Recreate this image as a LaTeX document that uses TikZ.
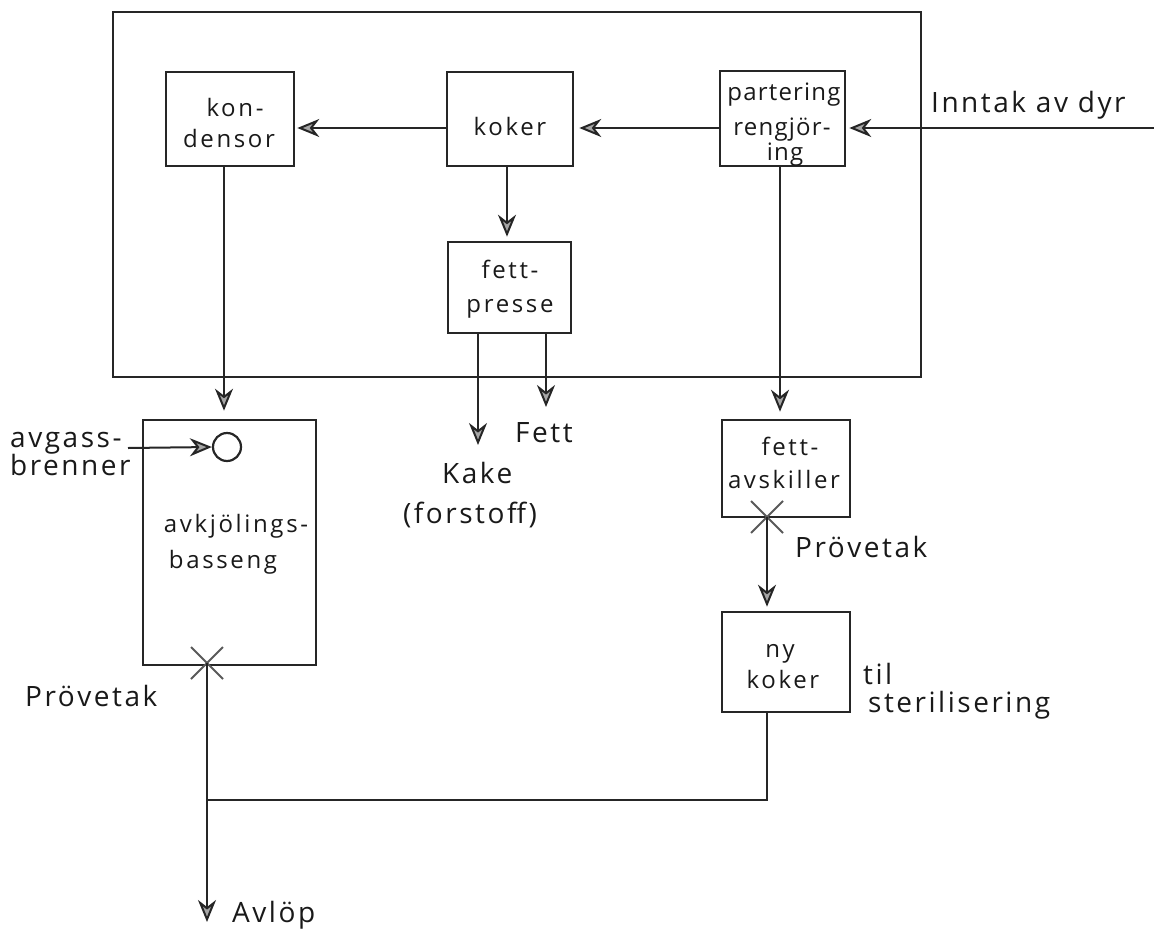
\documentclass[tikz,border=0pt]{standalone}
\usepackage{fontspec}
\setmainfont{Open Sans}
\newfontfamily\lblfont[LetterSpace=9]{Open Sans}
\newfontfamily\boxfont[LetterSpace=11]{Open Sans}
\newfontfamily\boxtight[LetterSpace=5]{Open Sans}
\usetikzlibrary{arrows.meta,shapes.misc}
\tikzset{
  unit/.style={draw=black!85, line width=2.6pt, inner sep=0pt, rectangle},
  flow/.style={draw=black!85, line width=2pt},
  arr/.style={flow, -{Stealth[length=22pt,width=18pt,inset=7pt,fill=black!35]}},
  outerlbl/.style={font=\lblfont\fontsize{28}{34}\selectfont, inner sep=0pt, anchor=base west, text=black!90},
  boxlbl/.style={font=\boxfont\fontsize{24}{31}\selectfont, inner sep=0pt, anchor=base, text=black!90},
  boxlbltight/.style={boxlbl, font=\boxtight\fontsize{24}{31}\selectfont},
  sample/.style={cross out, draw=black!65, line width=2pt, minimum size=30pt, inner sep=0pt},
}
\begin{document}
\begin{tikzpicture}[x=1pt,y=-1pt]
\useasboundingbox (0,0) rectangle (1154,929);
% plant enclosure
\node[unit, line width=2.8pt, minimum width=808pt, minimum height=365pt] (plant) at (517,194.5) {};
% process units
\node[unit, minimum width=128pt, minimum height=94pt] (kondensor) at (230,119) {};
\node[unit, minimum width=126pt, minimum height=94pt] (koker) at (510,119) {};
\node[unit, minimum width=125pt, minimum height=95pt] (partering) at (782.5,118.5) {};
\node[unit, minimum width=123pt, minimum height=91pt] (fettpresse) at (509.5,287.5) {};
\node[unit, minimum width=173pt, minimum height=245pt] (basin) at (229.5,542.5) {};
\node[unit, minimum width=128pt, minimum height=97pt] (avskiller) at (786,468.5) {};
\node[unit, minimum width=128pt, minimum height=100pt] (nykoker) at (786,662) {};
\node[circle, draw=black!85, line width=2.2pt, minimum size=28pt, inner sep=0pt] (burner) at (227,447) {};
\node[sample] (cross1) at (207,663) {};
\node[sample] (cross2) at (767,517) {};
% box labels
\node[boxlbl] (l1a) at (235,116) {kon-};
\node[boxlbl] (l1b) at (229,147) {densor};
\node[boxlbl] (l2) at (510,135) {koker};
\node[boxlbltight] (l3a) at (784,100) {partering};
\node[boxlbltight] (l3b) at (782,135) {rengjör-};
\node[boxlbltight] (l3c) at (785,160) {ing};
\node[boxlbl] (l4a) at (510,278) {fett-};
\node[boxlbl] (l4b) at (510,312) {presse};
\node[boxlbl] (l5a) at (236,532) {avkjölings-};
\node[boxlbl] (l5b) at (223,568) {basseng};
\node[boxlbl] (l6a) at (790,455) {fett-};
\node[boxlbl] (l6b) at (784,488) {avskiller};
\node[boxlbl] (l7a) at (780,657) {ny};
\node[boxlbl] (l7b) at (783,688) {koker};
% outer labels
\node[outerlbl] (tInntak) at (931,112) {Inntak av dyr};
\node[outerlbl] (tFett) at (515,442) {Fett};
\node[outerlbl] (tKake) at (442,483) {Kake};
\node[outerlbl] (tForstoff) at (403,523) {(forstoff)};
\node[outerlbl] (tProveR) at (795,557) {Prövetak};
\node[outerlbl] (tProveL) at (25,706) {Prövetak};
\node[outerlbl] (tTil) at (863,684) {til};
\node[outerlbl] (tSteril) at (868,712) {sterilisering};
\node[outerlbl] (tAvlop) at (232,922) {Avlöp};
\node[outerlbl] (tGass1) at (10,447) {avgass-};
\node[outerlbl] (tGass2) at (10,475) {brenner};
% helper coordinates
\coordinate (inntak) at (1154,128);
\coordinate (kakeend) at (478,445);
\coordinate (fettend) at (546,407);
\coordinate (kdown) at (224,0);
\coordinate (pdown) at (780,0);
\coordinate (gasstart) at (128,448);
\coordinate (join) at (207,800);
\coordinate (avlop) at (207,922);
% connectors
\draw[arr] (inntak) -- ([xshift=3pt]partering.east |- inntak);
\draw[arr] (partering.west |- inntak) -- ([xshift=5pt]koker.east |- inntak);
\draw[arr] (koker.west |- inntak) -- ([xshift=2pt]kondensor.east |- inntak);
\draw[arr] (koker.south -| 507,0) -- ([yshift=4pt]fettpresse.north -| 507,0);
\draw[arr] (kakeend |- fettpresse.south) -- (kakeend);
\draw[arr] (fettend |- fettpresse.south) -- (fettend);
\draw[arr] (kondensor.south -| kdown) -- ([yshift=8pt]basin.north -| kdown);
\draw[arr] (partering.south -| pdown) -- ([yshift=7pt]avskiller.north -| pdown);
\draw[arr] (cross2.center) -- ([yshift=4pt]nykoker.north -| cross2.center);
\draw[flow] (nykoker.south -| cross2.center) |- (join);
\draw[arr] (cross1.center) -- (avlop);
\draw[arr] (gasstart) -- (burner.west);
\end{tikzpicture}
\end{document}
